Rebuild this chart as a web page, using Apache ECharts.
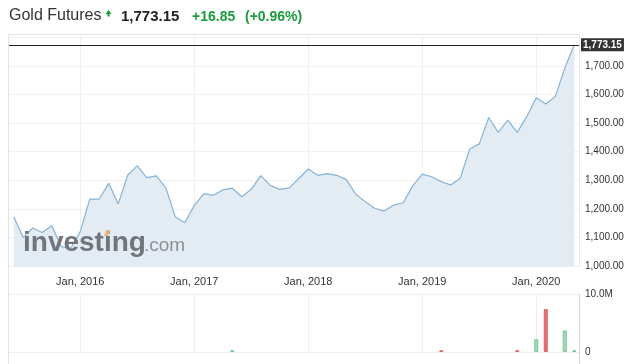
<!DOCTYPE html>
<html><head><meta charset="utf-8">
<script src="https://cdn.jsdelivr.net/npm/echarts@6/dist/echarts.min.js"></script>
<style>html,body{margin:0;padding:0;background:#fff}#c{width:638px;height:364px}</style>
</head><body><div id="c"></div>
<script>
const months = [
  '2015-06','2015-07','2015-08','2015-09','2015-10','2015-11','2015-12',
  '2016-01','2016-02','2016-03','2016-04','2016-05','2016-06','2016-07','2016-08','2016-09','2016-10','2016-11','2016-12',
  '2017-01','2017-02','2017-03','2017-04','2017-05','2017-06','2017-07','2017-08','2017-09','2017-10','2017-11','2017-12',
  '2018-01','2018-02','2018-03','2018-04','2018-05','2018-06','2018-07','2018-08','2018-09','2018-10','2018-11','2018-12',
  '2019-01','2019-02','2019-03','2019-04','2019-05','2019-06','2019-07','2019-08','2019-09','2019-10','2019-11','2019-12',
  '2020-01','2020-02','2020-03','2020-04','2020-05'
];
const prices = [
  1172, 1100, 1133, 1117, 1141, 1068, 1062,
  1120, 1234, 1234, 1289, 1217, 1318, 1350, 1309, 1315, 1274, 1172, 1151,
  1211, 1253, 1247, 1266, 1272, 1242, 1268, 1316, 1282, 1268, 1273, 1306,
  1339, 1317, 1323, 1317, 1302, 1251, 1225, 1202, 1192, 1213, 1221, 1280,
  1321, 1312, 1295, 1283, 1307, 1409, 1427, 1519, 1467, 1510, 1467, 1522,
  1588, 1566, 1592, 1691, 1773.15
];
// volume in millions
const volumes = [
  0,0,0,0,0,0,0,
  0,0,0,0,0,0,0,0,0,0,0,0,
  0,0,0,0,0.3,0,0,0,0,0,0,0,
  0,0,0,0,0,0,0,0,0,0,0,0,
  0,0,0.3,0,0,0,0,0,0,0,0.3,0,
  2.2,7.4,0,3.7,0.3
];
const lastPrice = 1773.15;
const priceTicks = {min: 1000, max: 1811, step: 100, lastLabel: 1700};
const volTicks = {min: 0, max: 10, step: 10};
const header = {name: 'Gold Futures', last: '1,773.15', change: '+16.85', pct: '(+0.96%)'};

const FONT = '"Liberation Sans", Arial, sans-serif';
const GREEN = '#1a9c3c';
const fmt2 = v => Number(v).toLocaleString('en-US', {minimumFractionDigits: 2, maximumFractionDigits: 2});
const isJan = (i, v) => String(v).endsWith('-01');
const janLabel = v => 'Jan, ' + v.slice(0, 4);

const volData = volumes.map((v, i) => {
  if (!v) return '-';
  const up = i === 0 || prices[i] >= prices[i - 1];
  return {
    value: v,
    itemStyle: up ? {color: '#a6dcb9', borderColor: '#74c493', borderWidth: 1}
                  : {color: '#e37474', borderColor: '#d86262', borderWidth: 1}
  };
});

const splitX = {show: true, interval: isJan, alignWithLabel: true, lineStyle: {color: '#eeeeee', width: 1}};

const chart = echarts.init(document.getElementById('c'));
chart.setOption({
  animation: false,
  backgroundColor: '#fff',
  grid: [
    {left: 9, width: 570, top: 34, height: 232},
    {left: 9, width: 570, top: 294, height: 58}
  ],
  xAxis: [
    {type: 'category', gridIndex: 0, data: months, boundaryGap: true,
     axisLine: {show: true, lineStyle: {color: '#ececec'}},
     axisTick: {show: false},
     axisLabel: {interval: isJan, formatter: janLabel, color: '#333', fontSize: 11, fontFamily: FONT, margin: 10},
     splitLine: splitX},
    {type: 'category', gridIndex: 1, data: months, boundaryGap: true,
     axisLine: {show: false}, axisTick: {show: false}, axisLabel: {show: false},
     splitLine: splitX}
  ],
  yAxis: [
    {type: 'value', gridIndex: 0, position: 'right', min: priceTicks.min, max: priceTicks.max, interval: priceTicks.step,
     axisLine: {show: true, lineStyle: {color: '#e8e8e8'}}, axisTick: {show: false},
     axisLabel: {formatter: v => v > priceTicks.lastLabel ? '' : fmt2(v), color: '#333', fontSize: 10, fontFamily: FONT, margin: 6},
     splitLine: {show: true, lineStyle: {color: '#f0f0f0'}}},
    {type: 'value', gridIndex: 1, position: 'right', min: volTicks.min, max: volTicks.max, interval: volTicks.step,
     axisLine: {show: false}, axisTick: {show: false},
     axisLabel: {formatter: v => v === 0 ? '0' : v.toFixed(1) + 'M', color: '#333', fontSize: 10, fontFamily: FONT, margin: 6},
     splitLine: {show: true, lineStyle: {color: '#efefef'}}}
  ],
  series: [
    {type: 'line', xAxisIndex: 0, yAxisIndex: 0, data: prices, symbol: 'none', smooth: false,
     lineStyle: {color: '#86b3d8', width: 1.2},
     areaStyle: {color: '#e4ecf3', opacity: 1},
     z: 2,
     markLine: {
       silent: true, symbol: 'none', animation: false,
       lineStyle: {color: '#222', width: 1, type: 'solid'},
       label: {show: true, position: 'end', formatter: () => fmt2(lastPrice), backgroundColor: '#333', color: '#fff',
               fontSize: 10, fontWeight: 'bold', fontFamily: FONT, padding: [2, 2, 1, 2], distance: 2},
       data: [{yAxis: lastPrice}]
     }},
    {type: 'bar', xAxisIndex: 1, yAxisIndex: 1, data: volData, barWidth: 4}
  ],
  graphic: {elements: [
    {type: 'text', left: 9, top: 8, style: {text: header.name, fontSize: 16, fontFamily: FONT, fill: '#333'}},
    {type: 'polygon', shape: {points: [[105.5, 14], [108.5, 10], [111.5, 14], [109.5, 14], [109.5, 16.5], [107.5, 16.5], [107.5, 14]]}, style: {fill: GREEN}},
    {type: 'text', left: 121, top: 9, style: {text: header.last, fontSize: 15, fontWeight: 'bold', fontFamily: FONT, fill: '#222'}},
    {type: 'text', left: 192, top: 10, style: {text: header.change, fontSize: 14, fontWeight: 'bold', fontFamily: FONT, fill: GREEN}},
    {type: 'text', left: 245, top: 10, style: {text: header.pct, fontSize: 14, fontWeight: 'bold', fontFamily: FONT, fill: GREEN}},
    // panel borders
    {type: 'line', shape: {x1: 8.5, y1: 34.5, x2: 8.5, y2: 364}, style: {stroke: '#e2e2e2', lineWidth: 1}, z: 10},
    {type: 'line', shape: {x1: 8.5, y1: 34.5, x2: 580, y2: 34.5}, style: {stroke: '#e2e2e2', lineWidth: 1}, z: 10},
    {type: 'line', shape: {x1: 579.5, y1: 294, x2: 579.5, y2: 364}, style: {stroke: '#c9d5e1', lineWidth: 1}, z: 10},
    // watermark
    {type: 'text', x: 23, y: 243, z: 20, style: {text: 'investing', fontSize: 28, fontWeight: 'bold', fontFamily: FONT, fill: '#70767c', verticalAlign: 'middle'}},
    {type: 'text', x: 144, y: 246, z: 20, style: {text: '.com', fontSize: 19, fontFamily: FONT, fill: '#8c9196', verticalAlign: 'middle'}},
    {type: 'polygon', z: 21, shape: {points: [[104, 236], [106, 230], [110, 230], [108, 236]]}, style: {fill: '#e9b57c'}}
  ]}
});
</script>
</body></html>
